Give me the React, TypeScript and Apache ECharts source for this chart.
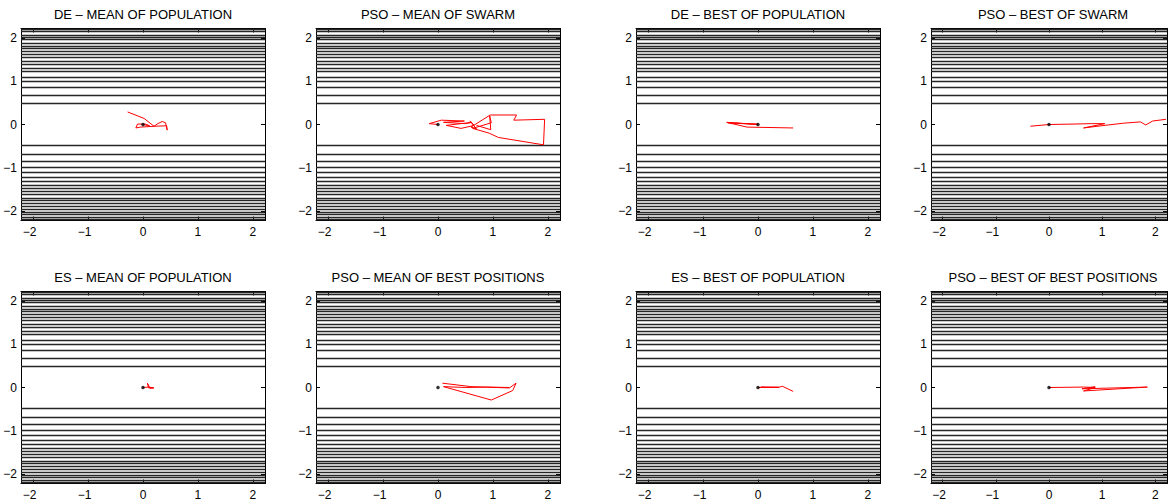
import React, { useEffect, useRef } from "react";
import * as echarts from "echarts";

// ---------- data ----------
const TITLES = [
  "DE – MEAN OF POPULATION",
  "PSO – MEAN OF SWARM",
  "DE – BEST OF POPULATION",
  "PSO – BEST OF SWARM",
  "ES – MEAN OF POPULATION",
  "PSO – MEAN OF BEST POSITIONS",
  "ES – BEST OF POPULATION",
  "PSO – BEST OF BEST POSITIONS",
];

// positive contour levels (y), mirrored for negative side
const CONTOUR_LEVELS_POS = [
  0.49, 0.68, 0.85, 0.99, 1.1, 1.22, 1.31, 1.4, 1.47, 1.55, 1.62, 1.7, 1.76,
  1.82, 1.88, 1.96, 2.02, 2.07, 2.15, 2.2,
];

const OPTIMUM = [0, 0];

const DE_MEAN_POP = [
  [-0.28, 0.29], [0.02, 0.14], [0.2, -0.04], [0.27, 0.02], [0.35, 0.07],
  [0.41, 0.04], [0.44, -0.13], [0.43, -0.03], [0.22, -0.04], [-0.05, -0.06],
  [-0.13, -0.08], [-0.1, 0.01], [0.04, 0.01], [0.12, -0.03], [0, 0],
];
const PSO_MEAN_SWARM = [
  [0, 0], [-0.16, 0.02], [0.06, 0.1], [0.48, 0.08], [0.1, 0.05], [0.5, 0.02],
  [0.62, 0.05], [0.15, -0.02], [0.42, -0.09], [0.66, -0.02], [0.58, 0.08],
  [0.7, -0.1], [0.6, -0.06], [0.95, 0.22], [1.43, 0.22], [1.38, 0.1],
  [1.94, 0.12], [1.92, -0.47], [1.1, -0.3], [0.93, -0.2], [0.63, -0.09],
  [0.97, 0.04], [0.94, 0.2], [0.96, -0.12], [0.7, -0.02],
];
const DE_BEST_POP = [[0.64, -0.08], [-0.2, -0.06], [-0.57, 0.05], [0, 0], [-0.55, 0.04], [0, 0.01]];
const PSO_BEST_SWARM = [
  [-0.35, -0.04], [0, 0], [0.45, 0.01], [0.8, 0.02], [1.05, 0.02],
  [0.65, -0.08], [0.98, -0.03], [1.4, 0.03], [1.72, 0.06], [1.82, -0.01],
  [1.95, 0.08], [2.2, 0.12],
];
const ES_MEAN_POP = [
  [0, 0], [0.1, 0.01], [0.2, -0.01], [0.13, -0.02], [0.08, 0.1], [0.1, -0.01],
  [0.18, 0.0],
];
const PSO_MEAN_BEST = [
  [0.08, 0.1], [0.6, 0.02], [1.3, -0.01], [1.42, 0.1], [1.36, -0.07],
  [0.97, -0.29], [0.1, 0.02], [0.5, 0.0], [0.9, 0.01], [1.3, 0.0],
];
const ES_BEST_POP = [[0, 0], [0.38, 0.0], [0.05, 0.01], [0.4, 0.01], [0.44, 0.03], [0.64, -0.09]];
const PSO_BEST_BEST = [
  [0, 0], [0.65, 0.01], [0.87, 0.0], [0.65, -0.08], [1.85, 0.01],
  [0.62, -0.03], [0.87, 0.02],
];

const TRAJECTORIES = [
  DE_MEAN_POP, PSO_MEAN_SWARM, DE_BEST_POP, PSO_BEST_SWARM,
  ES_MEAN_POP, PSO_MEAN_BEST, ES_BEST_POP, PSO_BEST_BEST,
];

const AXIS_MIN = -2.22;
const AXIS_MAX = 2.22;

// ---------- layout ----------
const COL_LEFT = [21, 316, 636, 931];
const ROW_TOP = [28.5, 291.5];
const ROW_TITLE_Y = [14, 277];
const GRID_W = 244;
const GRID_H = 192;
const FONT = "'Liberation Sans', Arial, Helvetica, sans-serif";

const isInt = (v: number) => Math.abs(v - Math.round(v)) < 1e-6;
const fmtY = (v: number) => {
  if (!isInt(v)) return "";
  const r = Math.round(v);
  return r < 0 ? "\u2212" + Math.abs(r) : String(r);
};
const fmtX = (v: number) => {
  if (!isInt(v)) return "";
  const r = Math.round(v);
  return r < 0 ? "{n|\u2212" + Math.abs(r) + "}" : String(r);
};

function buildOption() {
  const grid: any[] = [];
  const xAxis: any[] = [];
  const yAxis: any[] = [];
  const series: any[] = [];
  const graphic: any[] = [];
  const levels = [
    ...CONTOUR_LEVELS_POS,
    ...CONTOUR_LEVELS_POS.map((v) => -v),
  ];
  const axisLine = { show: true, onZero: false, lineStyle: { color: "#000", width: 1 } };
  const axisTick = { show: true, inside: true, length: 4, lineStyle: { color: "#000", width: 1 } };
  const label = { color: "#000", fontSize: 12, fontFamily: FONT };

  for (let i = 0; i < 8; i++) {
    const row = Math.floor(i / 4);
    const col = i % 4;
    const left = COL_LEFT[col];
    const top = ROW_TOP[row];
    grid.push({ left, top, width: GRID_W, height: GRID_H, containLabel: false });
    graphic.push({
      type: "text",
      x: left + GRID_W / 2,
      y: ROW_TITLE_Y[row],
      style: {
        text: TITLES[i],
        fill: "#000",
        font: `13px ${FONT}`,
        textAlign: "center",
        textVerticalAlign: "middle",
        align: "center",
        verticalAlign: "middle",
      },
    });
  }
  for (let i = 0; i < 8; i++) {
    const base = {
      type: "value",
      gridIndex: i,
      min: AXIS_MIN,
      max: AXIS_MAX,
      minInterval: 1,
      maxInterval: 1,
      splitLine: { show: false },
      axisLine,
      axisTick,
    };
    xAxis.push({
      ...base,
      position: "bottom",
      axisLabel: {
        ...label,
        margin: 5,
        formatter: fmtX,
        rich: { n: { ...label, padding: [0, 7, 0, 0] } },
      },
    });
    yAxis.push({ ...base, position: "left", axisLabel: { ...label, margin: 4, formatter: fmtY } });
  }
  for (let i = 0; i < 8; i++) {
    const base = {
      type: "value",
      gridIndex: i,
      min: AXIS_MIN,
      max: AXIS_MAX,
      minInterval: 1,
      maxInterval: 1,
      splitLine: { show: false },
      axisLine,
      axisTick,
      axisLabel: { show: false },
    };
    xAxis.push({ ...base, position: "top" });
    yAxis.push({ ...base, position: "right" });
  }
  for (let i = 0; i < 8; i++) {
    series.push({
      type: "lines",
      coordinateSystem: "cartesian2d",
      xAxisIndex: i,
      yAxisIndex: i,
      silent: true,
      z: 1,
      lineStyle: { color: "#262626", width: 1.3, opacity: 1 },
      data: levels.map((y) => ({ coords: [[AXIS_MIN, y], [AXIS_MAX, y]] })),
    });
    series.push({
      type: "line",
      xAxisIndex: i,
      yAxisIndex: i,
      data: TRAJECTORIES[i],
      showSymbol: false,
      symbol: "none",
      clip: true,
      z: 3,
      lineStyle: { color: "#ff0000", width: 1 },
    });
    series.push({
      type: "scatter",
      xAxisIndex: i,
      yAxisIndex: i,
      data: [OPTIMUM],
      symbolSize: 3.5,
      z: 4,
      itemStyle: { color: "#000" },
    });
  }
  return { animation: false, backgroundColor: "#fff", grid, xAxis, yAxis, series, graphic };
}

export default function App() {
  const ref = useRef<HTMLDivElement>(null);
  useEffect(() => {
    if (!ref.current) return;
    const chart = echarts.init(ref.current, undefined, { renderer: "svg" });
    chart.setOption(buildOption() as any);
    return () => chart.dispose();
  }, []);
  return (
    <div
      ref={ref}
      style={{ position: "fixed", left: 0, top: 0, width: 1170, height: 504, background: "#fff" }}
    />
  );
}
